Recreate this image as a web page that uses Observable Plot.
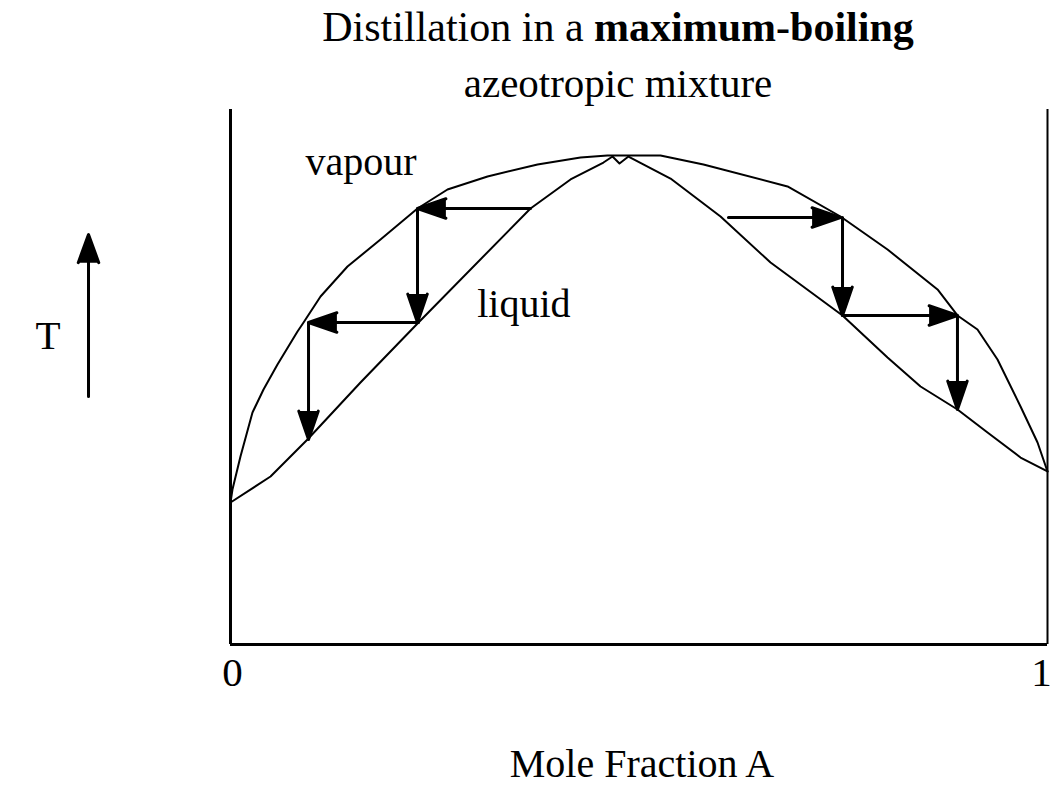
<!DOCTYPE html>
<html>
<head>
<meta charset="utf-8">
<script src="https://cdn.jsdelivr.net/npm/d3@7"></script>
<script src="https://cdn.jsdelivr.net/npm/@observablehq/plot@0.6"></script>
<style>
  html, body { margin: 0; padding: 0; background: #fff; overflow: hidden; }
  #title {
    height: 110px; width: 866px; padding-left: 185px;
    text-align: center; font-family: "Liberation Serif", serif;
    font-size: 42px; line-height: 56px; color: #000;
    margin-top: -1px;
  }
  #title .l2 { font-size: 41px; }
</style>
</head>
<body>
<div id="title">Distillation in a <b>maximum-boiling</b><br><span class="l2">azeotropic mixture</span></div>
<div id="chart"></div>
<script>
// ---- data (x = mole fraction A, t = temperature, relative units 0–100) ----
const liquidX = [0, 0.049, 0.0942, 0.1591, 0.2301, 0.3672, 0.4162, 0.4565, 0.4676, 0.4761, 0.4871,
                 0.5386, 0.5998, 0.6610, 0.7491, 0.8042, 0.8446, 0.8898, 0.9266, 0.9670, 1];
const liquidT = [26.54, 31.40, 38.32, 48.97, 60.19, 81.50, 86.92, 90.09, 91.21, 89.91, 91.21,
                 87.10, 80.00, 71.40, 61.50, 53.64, 48.22, 43.93, 39.63, 34.95, 32.34];

const vapourX = [0, 0.0024, 0.0122, 0.0269, 0.0404, 0.0575, 0.0820, 0.0894, 0.1102, 0.1432, 0.1836,
                 0.2289, 0.2656, 0.3146, 0.3758, 0.4284, 0.4614, 0.5263, 0.5789, 0.6818, 0.7466,
                 0.8042, 0.8654, 0.8898, 0.9143, 0.9388, 0.9670, 0.9878, 1];
const vapourT = [26.54, 28.97, 35.14, 43.36, 47.66, 52.34, 58.50, 60.19, 65.05, 70.65, 75.70,
                 81.50, 85.05, 87.48, 89.72, 91.03, 91.40, 91.40, 89.72, 85.61, 80.00,
                 73.83, 66.36, 61.50, 58.88, 53.27, 44.49, 37.76, 32.34];

// distillation steps (arrows): start -> end
const stepX1 = [0.3672, 0.2289, 0.2301, 0.0955, 0.6095, 0.7491, 0.7491, 0.8898];
const stepT1 = [81.50, 81.50, 60.19, 60.19, 79.81, 79.81, 61.50, 61.50];
const stepX2 = [0.2289, 0.2289, 0.0955, 0.0955, 0.7466, 0.7491, 0.8898, 0.8898];
const stepT2 = [81.50, 60.19, 60.19, 38.32, 79.81, 61.50, 61.50, 43.93];

// temperature direction arrow beside the axis
const tArrowX = [-0.1738];
const tArrowT1 = [46.36];
const tArrowT2 = [76.64];

// labels
const curveLabels = ["vapour", "liquid"];
const curveLabelX = [0.0918, 0.302];
const curveLabelT = [87.85, 61.3];
const xTicks = [0, 1];
const xTickLabels = ["0", "1"];
const xLabel = "Mole Fraction A";
const yLabel = "T";

// ---- build tables ----
const liquid = liquidX.map((x, i) => ({x, t: liquidT[i]}));
const vapour = vapourX.map((x, i) => ({x, t: vapourT[i]}));
const steps = stepX1.map((x1, i) => ({x1, t1: stepT1[i], x2: stepX2[i], t2: stepT2[i]}));
const tArrow = tArrowX.map((x, i) => ({x, t1: tArrowT1[i], t2: tArrowT2[i]}));
const labels = curveLabels.map((s, i) => ({s, x: curveLabelX[i], t: curveLabelT[i]}));
const fmt = d => xTickLabels[xTicks.indexOf(d)];

const chart = Plot.plot({
  width: 1051,
  height: 677,
  marginLeft: 230,
  marginRight: 4,
  marginTop: 0,
  marginBottom: 142,
  x: {domain: [0, 1]},
  y: {domain: [0, 100], axis: null},
  style: {fontFamily: '"Liberation Serif", serif', background: "white", color: "black", overflow: "visible"},
  marks: [
    Plot.ruleX([0], {strokeWidth: 3}),
    Plot.ruleX([1], {strokeWidth: 2}),
    Plot.ruleY([0], {strokeWidth: 3}),
    Plot.line(liquid, {x: "x", y: "t", strokeWidth: 2}),
    Plot.line(vapour, {x: "x", y: "t", strokeWidth: 2}),
    Plot.arrow(steps, {x1: "x1", y1: "t1", x2: "x2", y2: "t2", strokeWidth: 3,
      headAngle: 38, headLength: 15, fill: "black", stroke: "black"}),
    Plot.arrow(tArrow, {x1: "x", y1: "t1", x2: "x", y2: "t2", strokeWidth: 3,
      headAngle: 40, headLength: 15, fill: "black", stroke: "black", clip: false}),
    Plot.text(labels, {x: "x", y: "t", text: "s", textAnchor: "start", lineAnchor: "bottom", fontSize: 40}),
    Plot.text([yLabel], {text: d => d, frameAnchor: "left", dx: -195, dy: -28.5, lineAnchor: "bottom", fontSize: 41}),
    Plot.text([xLabel], {text: d => d, frameAnchor: "bottom", dx: 3, dy: 132, lineAnchor: "bottom", fontSize: 40}),
    Plot.axisX({ticks: xTicks.slice(0, 1), tickFormat: fmt, tickSize: 0,
      tickPadding: 12, fontSize: 41, label: null, dx: 2}),
    Plot.axisX({ticks: xTicks.slice(1), tickFormat: fmt, tickSize: 0,
      tickPadding: 12, fontSize: 41, label: null, dx: -6})
  ]
});
document.getElementById("chart").appendChild(chart);
</script>
</body>
</html>
